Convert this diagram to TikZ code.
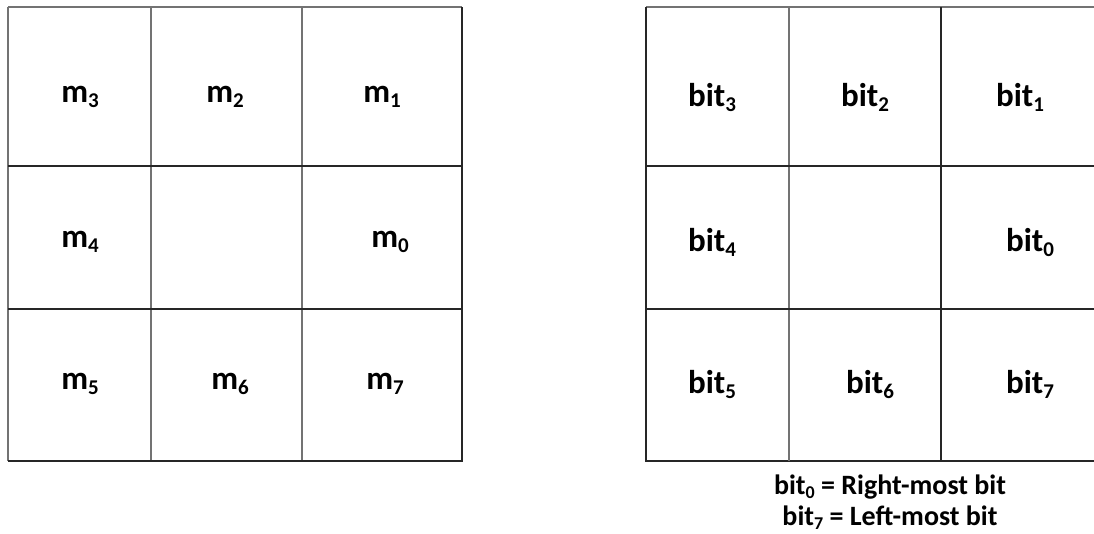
\documentclass[tikz,border=0pt]{standalone}
\usepackage{fontspec}
\setmainfont{Carlito}

% subscript as set in the cells and in the note
\newcommand{\cellsub}[1]{\raisebox{-5pt}{\fontsize{21}{21}\selectfont #1}}
\newcommand{\notesub}[1]{\raisebox{-4pt}{\fontsize{18}{18}\selectfont #1}}

\begin{document}
\begin{tikzpicture}[x=1pt, y=-1pt,
    cell/.style={font=\bfseries\fontsize{33}{40}\selectfont, inner sep=0pt},
    note/.style={font=\bfseries\fontsize{28}{32}\selectfont, inner sep=0pt},
    edge/.style={line width=1.6pt, black!85},
    soft/.style={line width=1.6pt, black!55}]

    \useasboundingbox (0,0) rectangle (1094,533);

    % left grid
    \draw[soft] (8,7) -- (462,7);
    \draw[soft] (8,7) -- (8,461);
    \draw[soft] (151,7) -- (151,461);
    \draw[soft] (302,7) -- (302,461);
    \draw[edge] (462,7) -- (462,461) -- (8,461);
    \draw[edge] (8,166) -- (462,166);
    \draw[edge] (8,309) -- (462,309);

    \node[cell] (m3) at (80,97) {m\cellsub{3}};
    \node[cell] (m2) at (225,97) {m\cellsub{2}};
    \node[cell] (m1) at (382,97) {m\cellsub{1}};
    \node[cell] (m4) at (80,242) {m\cellsub{4}};
    \node[cell] (m0) at (390,242) {m\cellsub{0}};
    \node[cell] (m5) at (80,384) {m\cellsub{5}};
    \node[cell] (m6) at (230,384) {m\cellsub{6}};
    \node[cell] (m7) at (385,384) {m\cellsub{7}};

    % right grid
    \draw[soft] (646,7) -- (1094,7);
    \draw[edge] (646,7) -- (646,461) -- (1094,461);
    \draw[soft] (789,7) -- (789,461);
    \draw[edge] (941,7) -- (941,461);
    \draw[edge] (646,166) -- (1094,166);
    \draw[edge] (646,309) -- (1094,309);

    \node[cell] (bit3) at (712,97) {bit\cellsub{3}};
    \node[cell] (bit2) at (865,97) {bit\cellsub{2}};
    \node[cell] (bit1) at (1020,97) {bit\cellsub{1}};
    \node[cell] (bit4) at (712,242) {bit\cellsub{4}};
    \node[cell] (bit0) at (1030,242) {bit\cellsub{0}};
    \node[cell] (bit5) at (712,384) {bit\cellsub{5}};
    \node[cell] (bit6) at (870,384) {bit\cellsub{6}};
    \node[cell] (bit7) at (1030,384) {bit\cellsub{7}};

    \node[note] (right) at (890,487) {bit\notesub{0} = Right-most bit};
    \node[note] (left) at (890,518) {bit\notesub{7} = Left-most bit};

\end{tikzpicture}
\end{document}
